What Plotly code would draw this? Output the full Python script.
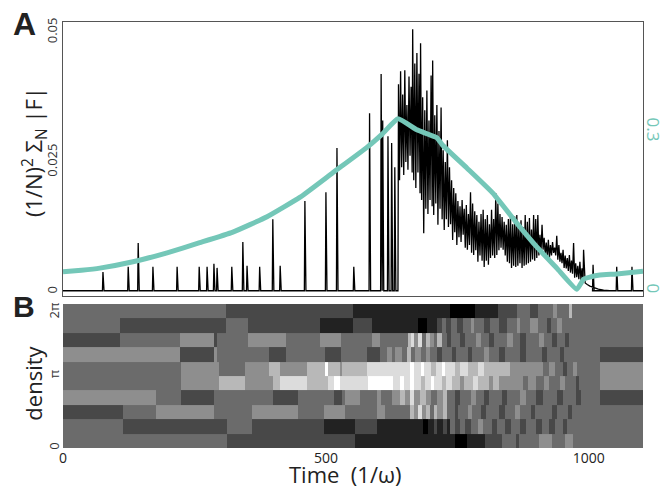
import numpy as np
import plotly.graph_objects as go

# ---------------- data ----------------
# isolated spikes of the order parameter (time, height)
spike_t = [76, 124, 143, 171, 217, 259, 274, 287, 293, 321, 342, 350, 374, 399, 413,
           460, 500, 521, 553, 583, 605, 608, 618, 625, 631, 1008, 1053, 1082]
spike_h = [0.0038, 0.0048, 0.0094, 0.0048, 0.0048, 0.0048, 0.0048, 0.0054, 0.0046, 0.0048,
           0.0096, 0.0050, 0.0048, 0.0140, 0.0050, 0.0175, 0.0192, 0.0277, 0.0048, 0.0344,
           0.0420, 0.0330, 0.0300, 0.0287, 0.0240, 0.0052, 0.0048, 0.0048]
base_level = 0.0002

# dense (synchronised) phase: sample times with high / low values
dense_t = [638, 642, 646, 650, 654, 658, 662, 665, 669, 673, 677, 680, 684, 688, 692, 696,
           700, 703, 707, 711, 715, 719, 723, 727, 731, 735, 739, 743, 747, 751, 755, 759,
           763, 767, 771, 775, 779, 783, 787, 791, 795, 799, 803, 807, 811, 815, 819, 823,
           827, 831, 835, 839, 843, 847, 851, 855, 859, 863, 867, 871, 875, 879, 883, 887,
           891, 895, 899, 903, 907, 911, 915, 919, 923, 927, 931, 935, 939, 943, 947, 951,
           955, 959, 963, 967, 971, 975, 979, 983, 987, 990]
dense_hi = [0.0400, 0.0425, 0.0380, 0.0427, 0.0360, 0.0415, 0.0395, 0.0506, 0.0440, 0.0460,
            0.0420, 0.0479, 0.0375, 0.0350, 0.0388, 0.0330, 0.0417, 0.0446, 0.0340, 0.0360,
            0.0310, 0.0355, 0.0273, 0.0250, 0.0292, 0.0240, 0.0215, 0.0200, 0.0190, 0.0175,
            0.0165, 0.0177, 0.0160, 0.0167, 0.0150, 0.0192, 0.0170, 0.0155, 0.0148, 0.0135,
            0.0150, 0.0158, 0.0140, 0.0148, 0.0130, 0.0158, 0.0140, 0.0190, 0.0170, 0.0150,
            0.0144, 0.0135, 0.0129, 0.0140, 0.0148, 0.0130, 0.0145, 0.0148, 0.0130, 0.0138,
            0.0125, 0.0148, 0.0135, 0.0142, 0.0120, 0.0148, 0.0140, 0.0148, 0.0110, 0.0129,
            0.0104, 0.0095, 0.0100, 0.0090, 0.0096, 0.0085, 0.0108, 0.0090, 0.0075, 0.0081,
            0.0070, 0.0065, 0.0071, 0.0060, 0.0094, 0.0055, 0.0050, 0.0058, 0.0045, 0.0081]
dense_lo = [0.0215, 0.0240, 0.0225, 0.0250, 0.0235, 0.0262, 0.0230, 0.0215, 0.0200, 0.0230,
            0.0190, 0.0177, 0.0113, 0.0160, 0.0150, 0.0177, 0.0165, 0.0148, 0.0170, 0.0129,
            0.0160, 0.0140, 0.0119, 0.0140, 0.0125, 0.0130, 0.0100, 0.0115, 0.0090, 0.0105,
            0.0096, 0.0110, 0.0085, 0.0081, 0.0090, 0.0075, 0.0071, 0.0080, 0.0058, 0.0070,
            0.0060, 0.0048, 0.0060, 0.0052, 0.0065, 0.0070, 0.0065, 0.0071, 0.0080, 0.0085,
            0.0081, 0.0070, 0.0058, 0.0055, 0.0046, 0.0050, 0.0048, 0.0050, 0.0055, 0.0046,
            0.0050, 0.0052, 0.0055, 0.0058, 0.0062, 0.0060, 0.0065, 0.0070, 0.0075, 0.0081,
            0.0071, 0.0068, 0.0065, 0.0070, 0.0075, 0.0070, 0.0062, 0.0058, 0.0055, 0.0046,
            0.0045, 0.0040, 0.0037, 0.0035, 0.0027, 0.0028, 0.0024, 0.0023, 0.0020, 0.0019]
# relaxation tail after desynchronisation
tail_t = [993, 997, 1002, 1010, 1018, 1028, 1040]
tail_v = [0.0017, 0.0014, 0.0011, 0.0008, 0.0005, 0.0003, 0.0002]

# teal curve (right axis)
teal_t = [0, 35, 70, 133, 198, 260, 323, 388, 451, 513, 578, 608, 637, 673, 711, 722,
          768, 817, 863, 901, 939, 977, 990, 1002, 1021, 1053, 1103]
teal_v = [0.036, 0.039, 0.043, 0.055, 0.072, 0.091, 0.111, 0.140, 0.177, 0.223, 0.271,
          0.297, 0.325, 0.304, 0.289, 0.275, 0.232, 0.185, 0.128, 0.083, 0.043, 0.003,
          0.022, 0.026, 0.030, 0.032, 0.037]

# density map: for each phase bin (bottom -> top) list of (segment end time, gray level)
density_rows = [
    [(312, 3), (555, 2), (745, 1), (768, 0), (802, 1), (835, 2), (862, 3), (867, 2), (905, 3),
     (930, 4), (955, 3), (970, 4), (1103, 3)],
    [(114, 3), (312, 2), (359, 3), (496, 2), (555, 1), (597, 2), (684, 1), (694, 0), (705, 1),
     (712, 2), (722, 1), (730, 2), (736, 1), (745, 3), (755, 2), (765, 3), (775, 2), (790, 3),
     (798, 4), (815, 3), (825, 2), (840, 3), (852, 2), (870, 3), (880, 2), (900, 3), (910, 2),
     (925, 3), (935, 2), (950, 3), (958, 2), (1103, 3)],
    [(114, 2), (177, 3), (287, 4), (359, 3), (447, 4), (496, 3), (536, 4), (597, 3), (612, 4),
     (660, 3), (668, 5), (675, 4), (682, 6), (690, 4), (698, 5), (705, 3), (712, 5), (722, 4),
     (730, 5), (745, 3), (752, 2), (770, 3), (778, 4), (795, 3), (805, 2), (830, 3), (840, 2),
     (860, 3), (870, 4), (890, 3), (898, 2), (930, 3), (940, 2), (960, 3), (968, 2), (1103, 3)],
    [(177, 4), (224, 3), (287, 2), (399, 3), (447, 2), (515, 3), (530, 2), (536, 3), (565, 4),
     (597, 3), (605, 4), (625, 3), (640, 4), (650, 5), (660, 4), (668, 6), (678, 4), (690, 5),
     (700, 4), (712, 3), (722, 4), (730, 5), (745, 3), (755, 2), (775, 3), (785, 4), (800, 3),
     (810, 2), (835, 3), (845, 2), (870, 3), (880, 4), (900, 3), (912, 2), (940, 3), (950, 2),
     (975, 3), (985, 2), (1021, 3), (1103, 2)],
    [(224, 3), (297, 4), (346, 5), (399, 4), (413, 5), (464, 6), (504, 5), (515, 6), (527, 7),
     (580, 6), (627, 7), (640, 6), (648, 7), (660, 6), (668, 7), (680, 6), (688, 5), (700, 6),
     (706, 7), (720, 6), (728, 5), (740, 6), (755, 5), (762, 4), (780, 5), (790, 6), (810, 5),
     (818, 4), (830, 5), (875, 4), (885, 3), (900, 4), (915, 3), (925, 4), (945, 3), (955, 4),
     (975, 3), (982, 2), (1021, 3), (1103, 4)],
    [(224, 3), (297, 4), (346, 3), (392, 4), (413, 5), (464, 4), (498, 5), (504, 7), (527, 5),
     (530, 4), (578, 5), (660, 6), (668, 7), (680, 6), (686, 7), (700, 6), (710, 5), (720, 6),
     (726, 7), (745, 6), (755, 5), (770, 6), (790, 5), (800, 6), (850, 5), (912, 4), (925, 3),
     (935, 4), (950, 3), (958, 2), (970, 3), (978, 4), (1021, 3), (1103, 4)],
    [(222, 4), (287, 2), (293, 4), (392, 3), (424, 2), (498, 3), (528, 2), (578, 3), (603, 2),
     (616, 3), (625, 4), (632, 3), (645, 4), (655, 3), (662, 5), (670, 3), (680, 4), (690, 3),
     (698, 4), (712, 3), (720, 2), (740, 3), (748, 2), (770, 3), (778, 2), (800, 3), (810, 4),
     (830, 3), (840, 2), (870, 3), (880, 2), (910, 3), (920, 2), (945, 3), (952, 2), (1021, 3),
     (1103, 2)],
    [(108, 2), (222, 3), (287, 4), (293, 2), (352, 3), (424, 4), (489, 3), (528, 4), (587, 3),
     (603, 4), (656, 3), (662, 5), (668, 6), (675, 4), (682, 6), (690, 3), (698, 5), (705, 4),
     (712, 3), (720, 5), (730, 3), (738, 2), (755, 3), (765, 2), (785, 3), (795, 4), (810, 3),
     (820, 2), (845, 3), (855, 4), (870, 3), (880, 2), (905, 3), (915, 4), (930, 3), (940, 2),
     (955, 3), (962, 2), (1103, 3)],
    [(108, 3), (310, 2), (352, 3), (489, 2), (551, 1), (587, 2), (675, 1), (692, 0), (711, 1),
     (720, 2), (728, 3), (738, 2), (750, 3), (760, 2), (775, 3), (782, 4), (800, 3), (812, 2),
     (830, 3), (845, 2), (863, 3), (870, 4), (888, 3), (903, 4), (920, 3), (928, 2), (940, 3),
     (948, 4), (1103, 3)],
    [(310, 3), (551, 2), (736, 1), (783, 0), (827, 1), (863, 2), (888, 3), (903, 2), (931, 3),
     (940, 4), (962, 3), (968, 5), (1103, 3)],
]
gray_levels = [0, 34, 72, 107, 142, 184, 220, 255]
n_bins = 10

x_ticks = [0, 500, 1000]
left_ticks = [0, 0.025, 0.05]
left_ticktext = ["0", "0.025", "0.05"]
right_ticks = [0, 0.3]
phase_ticks = [0, np.pi, 2 * np.pi]
phase_ticktext = ["0", "π", "2π\u00a0\u00a0\u00a0\u00a0\u00a0"]

TEAL = "#74c7b8"
FONT = "Open Sans"

# ---------------- build black trace ----------------
events = []
for t, h in zip(spike_t, spike_h):
    events.append((t, [(t - 1.0, base_level), (t, h), (t + 2.0, base_level)]))
dense_pts = []
for t, hi, lo in zip(dense_t, dense_hi, dense_lo):
    dense_pts += [(t, hi), (t + 2.0, lo)]
events.append((dense_t[0], [(dense_t[0] - 1.0, base_level)] + dense_pts +
               list(zip(tail_t, tail_v))))
events.sort(key=lambda e: e[0])
bx, by = [0.0], [base_level]
for _, pts in events:
    for px, py in pts:
        bx.append(px)
        by.append(py)
bx.append(1103)
by.append(base_level)

# ---------------- build heatmap ----------------
edges = sorted(set([0] + [e for row in density_rows for e, _ in row]))
mids = [(a + b) / 2 for a, b in zip(edges[:-1], edges[1:])]
z = []
for row in density_rows:
    zr = []
    for m in mids:
        for e, lev in row:
            if m < e:
                zr.append(lev)
                break
    z.append(zr)
y_edges = list(np.linspace(0, 2 * np.pi, n_bins + 1))
nlev = len(gray_levels) - 1
colorscale = [[k / nlev, f"rgb({g},{g},{g})"] for k, g in enumerate(gray_levels)]

fig = go.Figure()
fig.add_trace(go.Scatter(x=bx, y=by, mode="lines", line=dict(color="black", width=1.3),
                         xaxis="x", yaxis="y", showlegend=False, hoverinfo="skip"))
fig.add_trace(go.Scatter(x=teal_t, y=teal_v, mode="lines",
                         line=dict(color=TEAL, width=5, shape="spline", smoothing=0.4),
                         xaxis="x", yaxis="y2", showlegend=False))
fig.add_trace(go.Heatmap(x=edges, y=y_edges, z=z, colorscale=colorscale, zmin=0, zmax=nlev,
                         showscale=False, xaxis="x2", yaxis="y3", zsmooth=False))

axis_common = dict(showgrid=False, zeroline=False, ticks="", automargin=False)
# page body adds an 8px offset, so the figure is 8px smaller than the window
fig.update_layout(
    width=662, height=483,
    margin=dict(l=55, r=27, t=14, b=43),
    paper_bgcolor="white", plot_bgcolor="white",
    font=dict(family=FONT, color="#222"),
    xaxis=dict(domain=[0, 1], range=[0, 1103], anchor="y", showticklabels=False,
               showline=True, mirror=True, linecolor="#555", linewidth=1, **axis_common),
    yaxis=dict(domain=[0.357, 1], range=[-0.0008, 0.052], anchor="x",
               tickvals=left_ticks, ticktext=left_ticktext, tickangle=-90,
               tickfont=dict(size=13, color="#333"),
               showline=True, mirror=True, linecolor="#555", linewidth=1, **axis_common),
    yaxis2=dict(overlaying="y", side="right", anchor="x", range=[-0.0094, 0.5075],
                tickvals=right_ticks, ticktext=["0", "0.3"], tickangle=90,
                tickfont=dict(size=17, color=TEAL), showline=False, **axis_common),
    xaxis2=dict(domain=[0, 1], range=[0, 1103], anchor="y3", tickvals=x_ticks,
                tickfont=dict(size=14, color="#222"), showline=False, **axis_common),
    yaxis3=dict(domain=[0, 0.338], range=[0, 2 * np.pi], anchor="x2",
                tickvals=phase_ticks, ticktext=phase_ticktext, tickangle=-90,
                tickfont=dict(size=13, color="#333"), showline=False, **axis_common),
)

ann = [
    dict(text="<b>A</b>", x=-0.067, y=0.995, font=dict(size=32, family="Liberation Sans", color="#222")),
    dict(text="<b>B</b>", x=-0.067, y=0.333, font=dict(size=30, family="Liberation Sans", color="#222")),
    dict(text="(1/N)<sup>2</sup> Σ<sub>N</sub> |F|", x=-0.048, y=0.695, textangle=-90,
         font=dict(size=22, family=FONT, color="#222")),
    dict(text="density", x=-0.052, y=0.153, textangle=-90,
         font=dict(size=22, family=FONT, color="#222")),
    dict(text="Time\u00a0 (1/ω)", x=0.486, y=-0.062,
         font=dict(size=22, family=FONT, color="#222")),
]
for a in ann:
    fig.add_annotation(xref="paper", yref="paper", showarrow=False,
                       xanchor="center", yanchor="middle", **a)

fig.write_html("out.html")
